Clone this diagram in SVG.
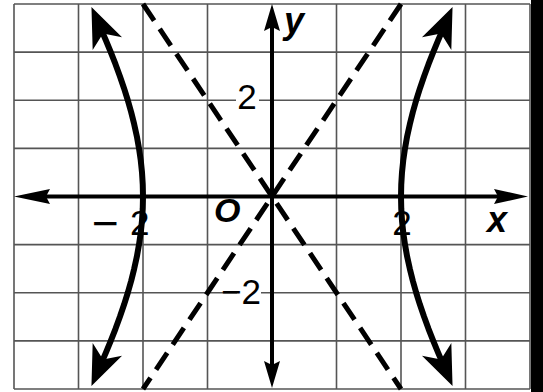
<svg xmlns="http://www.w3.org/2000/svg" width="543" height="392" viewBox="0 0 543 392">
  <style>
    .grid { stroke: #555; stroke-width: 1.6; fill: none; }
    .axis { stroke: #000; stroke-width: 4; fill: none; }
    .curve { stroke: #000; stroke-width: 6; fill: none; stroke-linejoin: round; }
    .asym { stroke: #000; stroke-width: 5; fill: none; stroke-dasharray: 20 10; }
    .num { font-family: "Liberation Sans", Arial, sans-serif; font-size: 35px; fill: #000; }
    .var { font-family: "Liberation Sans", Arial, sans-serif; font-weight: bold; font-style: italic; fill: #000; }
  </style>
  <defs>
    <marker id="ah" markerUnits="userSpaceOnUse" viewBox="-40 -40 80 80" markerWidth="80" markerHeight="80" refX="0" refY="0" orient="auto-start-reverse">
      <path d="M23,0 L-17,-16 L-6,0 L-17,16 Z" fill="#000"/>
    </marker>
  </defs>
  <rect x="0" y="0" width="543" height="392" fill="#fff"/>
  <g id="grid" class="grid">
    <path d="M14,4 V389 M78.5,4 V389 M143,4 V389 M207.5,4 V389 M336.5,4 V389 M401,4 V389 M465.5,4 V389 M530,4 V389"/>
    <path d="M14,4 H530 M14,52.1 H530 M14,100.25 H530 M14,148.4 H530 M14,244.6 H530 M14,292.75 H530 M14,340.9 H530 M14,389 H530"/>
  </g>
  <g id="asymptotes">
    <line class="asym" x1="143" y1="4" x2="401" y2="389"/>
    <line class="asym" x1="401" y1="4" x2="143" y2="389"/>
  </g>
  <g id="labels">
    <rect x="236" y="82" width="23" height="28" fill="#fff"/>
    <text class="num" x="247" y="109" text-anchor="middle">2</text>
    <rect x="237" y="277" width="24" height="28" fill="#fff"/>
    <text class="num" x="261" y="304" text-anchor="end">−2</text>
    <text class="num" x="92" y="235"><tspan font-size="46" dy="4">−</tspan><tspan dx="11" dy="-4">2</tspan></text>
    <text class="num" x="402" y="235" text-anchor="middle">2</text>
    <text class="var" x="214" y="222" font-size="34">O</text>
    <text class="var" x="487" y="232" font-size="36">x</text>
    <text class="var" x="284" y="33" font-size="36">y</text>
  </g>
  <g id="axes">
    <line class="axis" x1="44" y1="196.5" x2="500" y2="196.5"/>
    <line class="axis" x1="272" y1="26" x2="272" y2="366"/>
    <polygon points="14,196.5 50,189 46,196.5 50,204" fill="#000"/>
    <polygon points="528,196.5 494,189 498,196.5 494,204" fill="#000"/>
    <polygon points="272,4 264,31 272,27 280,31" fill="#000"/>
    <polygon points="272,388 264,361 272,365 280,361" fill="#000"/>
  </g>
  <g id="hyperbola">
    <path class="curve" marker-start="url(#ah)" marker-end="url(#ah)" d="M443.4,364.9 L438.2,352.9 L433.25,340.9 L428.5,328.8 L424.1,316.8 L420,304.8 L416.2,292.75 L412.8,280.7 L409.8,268.7 L407.15,256.7 L405,244.6 L403.25,232.6 L402,220.6 L401.25,208.5 L401,196.5 L401.25,184.5 L402,172.4 L403.25,160.4 L405,148.4 L407.15,136.3 L409.8,124.3 L412.8,112.3 L416.2,100.25 L420,88.2 L424.1,76.2 L428.5,64.2 L433.25,52.1 L438.2,40.1 L443.4,28.1"/>
    <path class="curve" marker-start="url(#ah)" marker-end="url(#ah)" d="M100.6,364.9 L105.8,352.9 L110.75,340.9 L115.5,328.8 L119.9,316.8 L124,304.8 L127.8,292.75 L131.2,280.7 L134.2,268.7 L136.85,256.7 L139,244.6 L140.75,232.6 L142,220.6 L142.75,208.5 L143,196.5 L142.75,184.5 L142,172.4 L140.75,160.4 L139,148.4 L136.85,136.3 L134.2,124.3 L131.2,112.3 L127.8,100.25 L124,88.2 L119.9,76.2 L115.5,64.2 L110.75,52.1 L105.8,40.1 L100.6,28.1"/>
  </g>
  <rect x="531" y="0" width="12" height="392" fill="#000"/>
</svg>
